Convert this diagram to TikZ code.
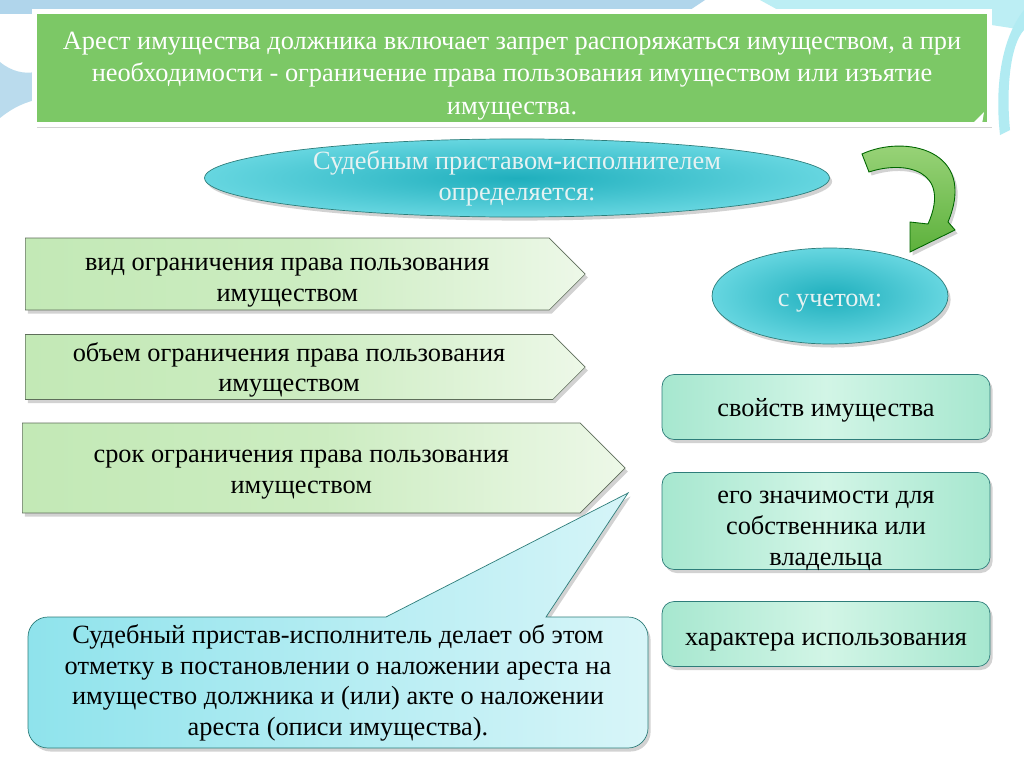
\documentclass[tikz,border=0pt]{standalone}
\usepackage{fontspec}
\setmainfont{Liberation Serif}
\newfontfamily\slidefont{Liberation Serif}
\usetikzlibrary{shapes.symbols,shapes.geometric,shadows,positioning}

\definecolor{bannergreen}{HTML}{7CC866}
\definecolor{skycyan}{HTML}{8FE3EC}
\definecolor{ovaledge}{HTML}{66D6E0}
\definecolor{deepcyan}{HTML}{1FAFBD}
\definecolor{leafgreen}{HTML}{C3E9B6}
\definecolor{paleleaf}{HTML}{EDF8E8}
\definecolor{mint}{HTML}{A6E7CF}
\definecolor{palemint}{HTML}{D2F5E6}
\definecolor{edgegrey}{HTML}{5E6E5A}
\definecolor{tealedge}{HTML}{2E7D7A}
\definecolor{ovaltext}{HTML}{E6F2F2}
\definecolor{decoblue}{HTML}{9CCBE6}
\definecolor{arrowlight}{HTML}{9ED67E}
\definecolor{arrowdark}{HTML}{5DB13C}

\tikzset{
  softshadow/.style={drop shadow={shadow xshift=1.5pt,shadow yshift=-2pt,opacity=0.35}},
  txt/.style={font=\slidefont\fontsize{15}{17.5}\selectfont,align=center},
  pointbox/.style={signal,signal to=east,signal pointer angle=90,draw=edgegrey,
    left color=leafgreen,right color=paleleaf,middle color=leafgreen!85!white,
    softshadow,txt,inner sep=0pt,anchor=west,text depth=0pt},
  factbox/.style={rectangle,rounded corners=0.24cm,draw=tealedge,
    left color=mint,right color=mint,middle color=palemint,
    minimum width=6.56cm,softshadow,txt,inner sep=0pt,text depth=0pt},
  oval/.style={ellipse,draw=tealedge,inner color=deepcyan,outer color=ovaledge,
    softshadow,txt,text=ovaltext,inner sep=0pt}
}

\begin{document}
\begin{tikzpicture}[x=0.02cm,y=-0.02cm]
  \useasboundingbox (0,0) rectangle (1024,767);

  % background decoration
  \fill[white] (0,0) rectangle (1024,767);
  \fill[decoblue!80] (0,0) -- (705,0) -- (690,10) -- (0,14) -- cycle;
  \fill[skycyan!60] (760,0) -- (1024,0) -- (1024,30) -- (985,24) -- (800,22) -- cycle;
  \fill[skycyan!70] (1024,10) .. controls (1000,40) and (995,90) .. (1000,135) -- (1010,130) .. controls (1006,90) and (1010,45) .. (1024,30) -- cycle;
  \fill[decoblue!70] (0,62) .. controls (12,72) and (25,74) .. (35,72) -- (35,100) .. controls (20,104) and (10,110) .. (0,118) -- cycle;

  % top banner
  \node[rectangle,fill=bannergreen,draw=white,line width=2.5pt,softshadow,
        minimum width=19.1cm,minimum height=2.26cm,inner sep=0pt,text=white,
        text height=52.5pt,text depth=0pt,
        font=\slidefont\fontsize{15}{18.3}\selectfont,align=center] (banner) at (512,68)
    {Арест имущества должника включает запрет распоряжаться имуществом, а при\\
     необходимости - ограничение права пользования имуществом или изъятие\\
     имущества.};
  \fill[white] (972,124) -- (984,112) -- (982,124) -- cycle;

  % ovals
  \node[oval,minimum width=12.5cm,minimum height=1.52cm] (who) at (517,178)
    {Судебным приставом-исполнителем\\ определяется:};
  \node[oval,minimum width=4.72cm,minimum height=1.92cm,text height=11.5pt,text depth=0pt] (given) at (830,296)
    {с учетом:};

  % curved arrow
  \draw[draw=green!40!black,top color=arrowlight,bottom color=arrowdark,
        line width=0.5pt,softshadow]
    (862,154) .. controls (905,134) and (978,150) .. (948,222) -- (955,230)
    -- (910,252) -- (910,222) -- (928,224)
    .. controls (952,170) and (905,160) .. (869,172) -- cycle;

  % left arrow boxes
  \node[pointbox,minimum width=11.2cm,minimum height=1.44cm,text height=31.5pt] (kind) at (25,274)
    {вид ограничения права пользования\\ имуществом};
  \node[pointbox,minimum width=11.2cm,minimum height=1.3cm,text height=28.3pt] (scope) at (25,367)
    {объем ограничения права пользования\\ имуществом};
  \node[pointbox,minimum width=12.06cm,minimum height=1.8cm,text height=29pt] (term) at (22,468)
    {срок ограничения права пользования\\ имуществом};

  % right boxes
  \node[factbox,minimum height=1.3cm] (props) at (826,407)
    {свойств имущества};
  \node[factbox,minimum height=1.94cm,text height=50.4pt] (value) at (826,521)
    {его значимости для\\ собственника или\\ владельца};
  \node[factbox,minimum height=1.3cm,text height=12.6pt] (usage) at (826,634)
    {характера использования};

  % callout
  \path[draw=tealedge,left color=skycyan,right color=skycyan!35!white,softshadow]
    (48,617) -- (386,617) -- (628,493) -- (546,617) -- (628,617)
    arc[start angle=90,end angle=0,radius=0.4cm] -- (648,728)
    arc[start angle=0,end angle=-90,radius=0.4cm] -- (48,748)
    arc[start angle=270,end angle=180,radius=0.4cm] -- (28,637)
    arc[start angle=180,end angle=90,radius=0.4cm] -- cycle;
  \node[txt] (note) at (338,683)
    {Судебный пристав-исполнитель делает об этом\\
     отметку в постановлении о наложении ареста на\\
     имущество должника и (или) акте о наложении\\
     ареста (описи имущества).};
\end{tikzpicture}
\end{document}
